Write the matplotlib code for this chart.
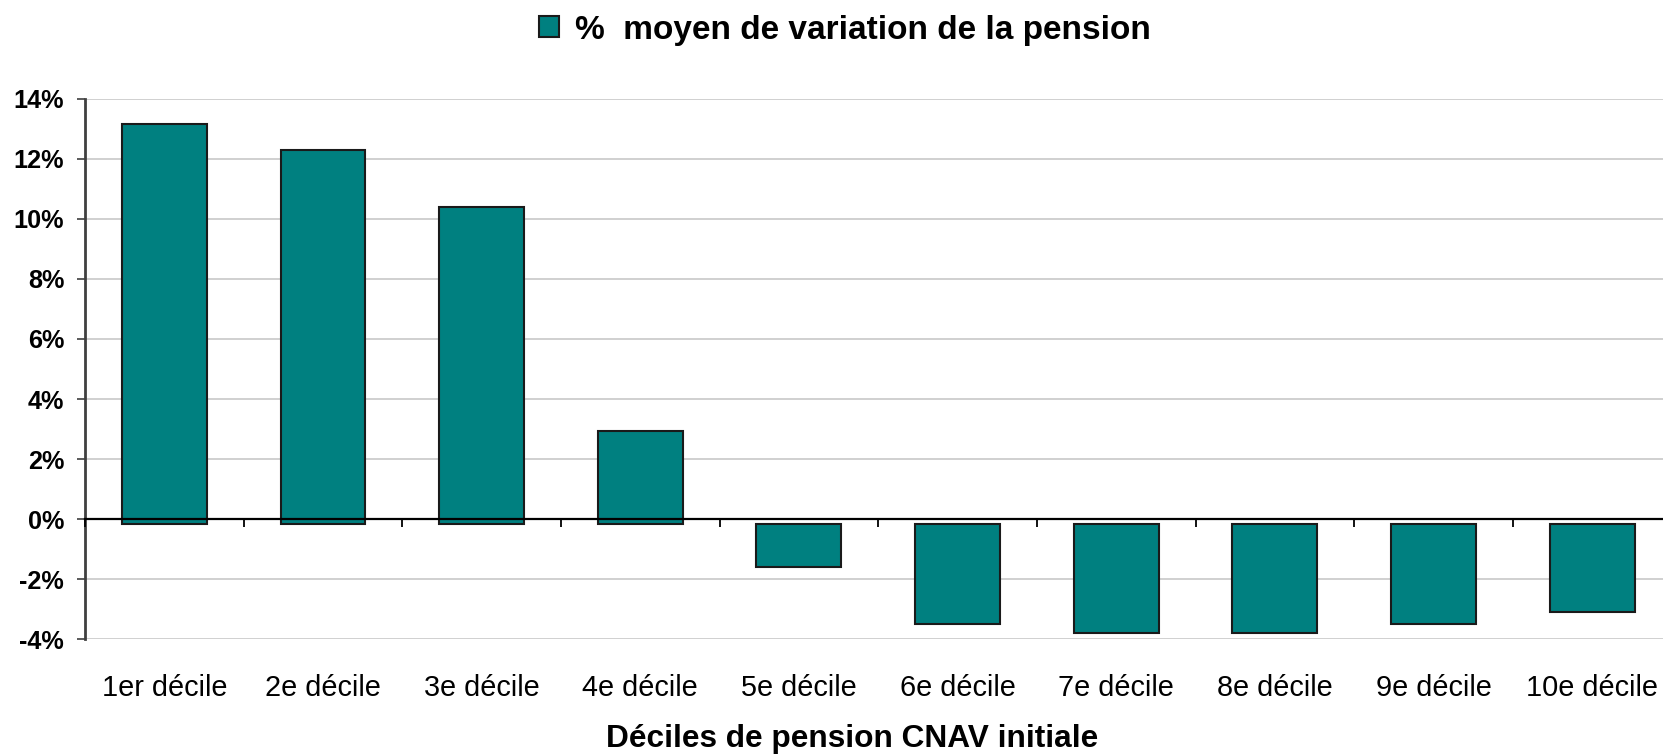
import matplotlib
matplotlib.use("Agg")
import matplotlib.pyplot as plt
from matplotlib.patches import Patch
import numpy as np

plt.rcParams['font.family'] = ['Liberation Sans', 'DejaVu Sans']

deciles = ["1er décile", "2e décile", "3e décile", "4e décile", "5e décile",
           "6e décile", "7e décile", "8e décile", "9e décile", "10e décile"]
variation = [13.15, 12.3, 10.4, 2.95, -1.6, -3.5, -3.8, -3.8, -3.5, -3.1]
yticks = [-4, -2, 0, 2, 4, 6, 8, 10, 12, 14]
legend_label = "%  moyen de variation de la pension"
xlabel = "Déciles de pension CNAV initiale"

teal = "#008080"
base = -0.15  # bars in the original start a hair below the zero line

fig = plt.figure(figsize=(16.63, 7.55), dpi=100)
ax = fig.add_axes([0.0511, 0.153, 0.954, 0.7164])

x = np.arange(len(deciles))
vals = np.array(variation)
ax.bar(x, vals - base, bottom=base, width=0.535, color=teal,
       edgecolor="#1a1a1a", linewidth=1.5, zorder=3)

ax.set_xlim(-0.5, 9.5)
ax.set_ylim(-4, 14)
ax.set_yticks(yticks)
ax.set_yticklabels([f"{v}%" for v in yticks], fontsize=18.2, fontweight="bold")
ax.grid(axis="y", color="#c8c8c8", linewidth=1.2, zorder=0)

ax.set_xticks(x)
ax.set_xticklabels(deciles, fontsize=20.8)
ax.tick_params(axis="x", length=0, pad=25)
ax.tick_params(axis="y", length=6, width=1.2, color="#404040", pad=9)

for s in ["top", "right", "bottom"]:
    ax.spines[s].set_visible(False)
ax.spines["left"].set_color("#404040")
ax.spines["left"].set_linewidth(2)

# zero line with category separator ticks
zero = ax.secondary_xaxis(4 / 18)
zero.set_xticks(np.arange(-0.5, 10, 1.0))
zero.set_xticklabels([])
zero.tick_params(length=6, width=1.3, color="black")
zero.spines["bottom"].set_color("black")
zero.spines["bottom"].set_linewidth(1.6)
zero.set_zorder(4)

ax.set_xlabel(xlabel, fontsize=22.8, fontweight="bold")
ax.xaxis.label.set_va("center")
ax.xaxis.set_label_coords((852 - 85) / (1663 * 0.954), -(739 - 639.5) / 541)

fig.legend(handles=[Patch(facecolor=teal, edgecolor="#1a1a1a", linewidth=1.5)],
           labels=[legend_label], loc="center",
           bbox_to_anchor=(845 / 1663, 1 - 30 / 755), frameon=False,
           prop={"size": 24, "weight": "bold"}, handlelength=0.6,
           handleheight=0.6, handletextpad=0.5)

fig.savefig("out.png", dpi=100)
